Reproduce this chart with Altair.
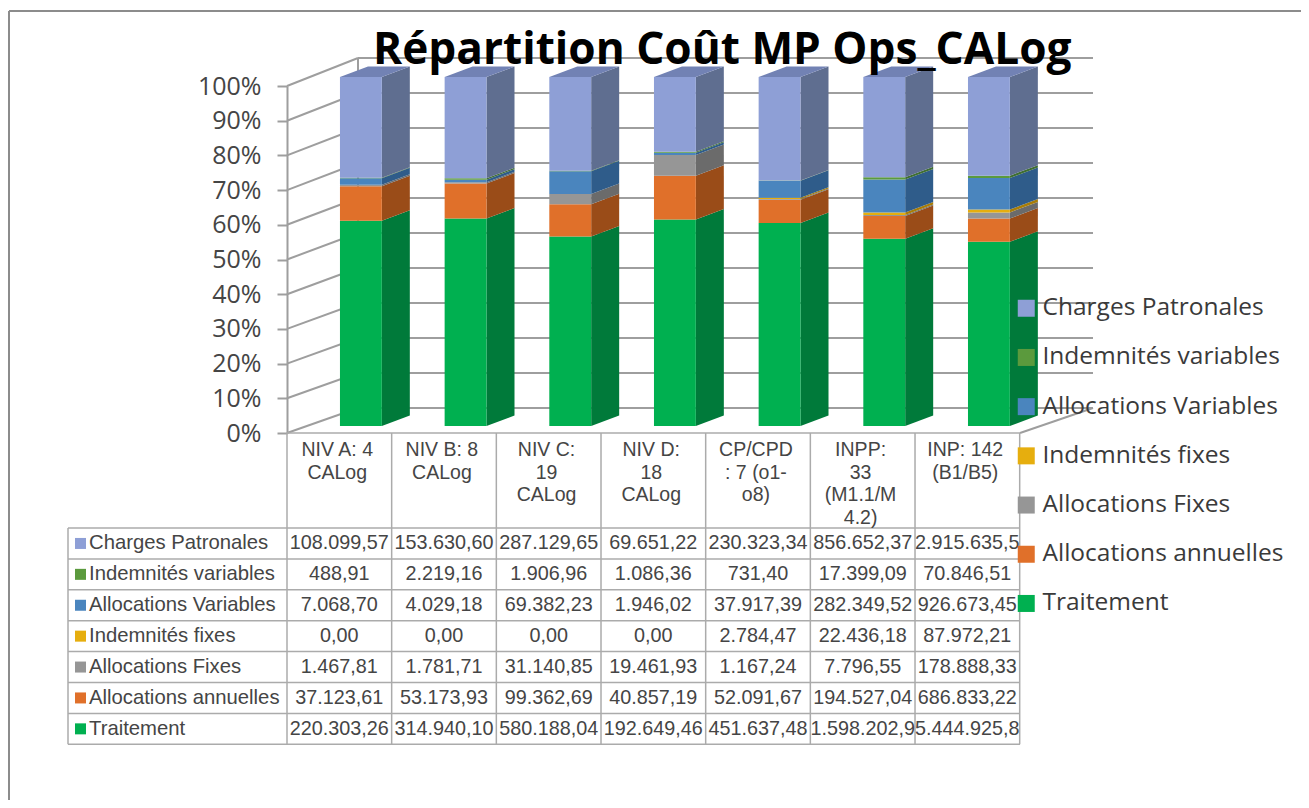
import altair as alt
import pandas as pd

categories = ["NIV A: 4\nCALog", "NIV B: 8\nCALog", "NIV C:\n19\nCALog", "NIV D:\n18\nCALog",
              "CP/CPD\n: 7 (o1-\no8)", "INPP:\n33\n(M1.1/M\n4.2)", "INP: 142\n(B1/B5)"]
series = ["Charges Patronales", "Indemnités variables", "Allocations Variables", "Indemnités fixes",
          "Allocations Fixes", "Allocations annuelles", "Traitement"]
charges = ["108.099,57", "153.630,60", "287.129,65", "69.651,22", "230.323,34", "856.652,37", "2.915.635,5"]
indem_var = ["488,91", "2.219,16", "1.906,96", "1.086,36", "731,40", "17.399,09", "70.846,51"]
alloc_var = ["7.068,70", "4.029,18", "69.382,23", "1.946,02", "37.917,39", "282.349,52", "926.673,45"]
indem_fix = ["0,00", "0,00", "0,00", "0,00", "2.784,47", "22.436,18", "87.972,21"]
alloc_fix = ["1.467,81", "1.781,71", "31.140,85", "19.461,93", "1.167,24", "7.796,55", "178.888,33"]
alloc_ann = ["37.123,61", "53.173,93", "99.362,69", "40.857,19", "52.091,67", "194.527,04", "686.833,22"]
traitement = ["220.303,26", "314.940,10", "580.188,04", "192.649,46", "451.637,48", "1.598.202,9", "5.444.925,8"]
table = [charges, indem_var, alloc_var, indem_fix, alloc_fix, alloc_ann, traitement]
front_colors = ["#8E9FD6", "#5B9A3D", "#4A85BE", "#E6AE0E", "#969696", "#E0702A", "#00B050"]
side_colors = ["#5F6E90", "#3F6E32", "#2F5C8A", "#A87D08", "#6B6B6B", "#9A4C18", "#007A3A"]
top_color = "#7282B4"
percent_ticks = [0, .1, .2, .3, .4, .5, .6, .7, .8, .9, 1]

W, H = 1293, 792
SANS = "Liberation Sans"
HEAD = "Open Sans"
TXT = "#454545"
LINE = "#9E9E9E"


# layout helpers: page pixels to the data units of the shared scales
def fx(px):
    return (px - 287) / 104.67


def fy(py):
    return (426 - py) / 349 * 100


xs = alt.Scale(domain=[fx(8), fx(8 + W)], range=[0, W], nice=False, zero=False)
ys = alt.Scale(domain=[fy(8 + H), fy(8)], range=[H, 0], nice=False, zero=False)
X = lambda f="x": alt.X(f + ":Q", scale=xs, axis=None)
Y = lambda f="y": alt.Y(f + ":Q", scale=ys, axis=None)
series_color = alt.Scale(domain=series, range=front_colors)

num = lambda s: float(s.replace(".", "").replace(",", "."))

BAR_START, BAR_W, DEPTH_X, DEPTH_Y = 0.506, 0.40, 28 / 104.67, 10.5 / 3.49
front, side, top = [], [], []
for i, cat in enumerate(categories):
    vals = [num(col[i]) for col in table]
    tot = sum(vals)
    base = 0.0
    for s in range(len(series) - 1, -1, -1):
        v = vals[s] / tot * 100
        if v > 0:
            x0 = i + BAR_START
            x1 = x0 + BAR_W
            front.append(dict(x=x0, x2=x1, y=base, y2=base + v, s=series[s]))
            key = f"{i}-{s}"
            side.append(dict(x=x1, y=base, y2=base + v, k=key, c=side_colors[s]))
            side.append(dict(x=x1 + DEPTH_X, y=base + DEPTH_Y, y2=base + v + DEPTH_Y, k=key, c=side_colors[s]))
        base += v
    x0 = i + BAR_START
    top.append(dict(x=x0, x2=x0 + BAR_W, y=100, k=i))
    top.append(dict(x=x0 + DEPTH_X, x2=x0 + BAR_W + DEPTH_X, y=100 + DEPTH_Y, k=i))

# walls and grid
grid, wall = [], []
for k in range(11):
    yb = 408 - 35 * k
    yf = 433 - 34.7 * k
    grid.append(dict(x=fx(358), x2=fx(1093), y=fy(yb), y2=fy(yb)))
    wall.append(dict(x=fx(287), x2=fx(358), y=fy(yf), y2=fy(yb)))
wall.append(dict(x=fx(358), x2=fx(358), y=fy(408), y2=fy(58)))
wall.append(dict(x=fx(1020), x2=fx(1093), y=fy(433), y2=fy(408)))

# table grid
ROW_TOP, ROW_H = 528, 30.9
tlines = [dict(x=fx(287), x2=fx(1020), y=fy(433), y2=fy(433))]
for r in range(8):
    py = ROW_TOP + r * ROW_H
    tlines.append(dict(x=fx(68), x2=fx(1020), y=fy(py), y2=fy(py)))
tlines.append(dict(x=fx(68), x2=fx(68), y=fy(ROW_TOP), y2=fy(ROW_TOP + 7 * ROW_H)))
for c in range(8):
    tlines.append(dict(x=c, x2=c, y=fy(433), y2=fy(ROW_TOP + 7 * ROW_H)))

headers = [dict(x=i + 0.48, y=fy(441), t=c) for i, c in enumerate(categories)]
cells, labels = [], []
for r, col in enumerate(table):
    py = ROW_TOP + (r + 0.5) * ROW_H
    labels.append(dict(x=fx(89), xk=fx(80.5), y=fy(py), t=series[r], s=series[r]))
    for i, t in enumerate(col):
        cells.append(dict(x=i + 0.5, y=fy(py), t=t))

frame = [dict(x=fx(9), x2=fx(1301), y=fy(11), y2=fy(11)),
         dict(x=fx(9), x2=fx(9), y=fy(11), y2=fy(800))]
ticks = [dict(v=v) for v in percent_ticks]


def rules(rows, color, width):
    return alt.Chart(pd.DataFrame(rows)).mark_rule(color=color, strokeWidth=width).encode(
        x=X(), x2="x2:Q", y=Y(), y2="y2:Q")


axis_layer = alt.Chart(pd.DataFrame(ticks)).mark_point(opacity=0).encode(
    x=alt.value(279),
    y=alt.Y("v:Q", scale=alt.Scale(domain=[0, 1], range=[425, 78], nice=False),
            axis=alt.Axis(title=None, offset=-279, values=percent_ticks, format=".0%", grid=False,
                          labelFont=HEAD, labelFontSize=25, labelColor=TXT, labelPadding=16,
                          tickSize=10, tickWidth=2, tickColor=LINE,
                          domainWidth=2, domainColor=LINE)),
)

side_layer = alt.Chart(pd.DataFrame(side)).mark_area(opacity=1).encode(
    x=X(), y=alt.Y("y:Q", scale=ys, axis=None, stack=None), y2="y2:Q", detail="k:N",
    color=alt.Color("c:N", scale=None, legend=None))

top_layer = alt.Chart(pd.DataFrame(top)).mark_area(orient="horizontal", color=top_color).encode(
    y=alt.Y("y:Q", scale=ys, axis=None), x=alt.X("x:Q", scale=xs, axis=None, stack=None), x2="x2:Q", detail="k:N")

front_layer = alt.Chart(pd.DataFrame(front)).mark_rect().encode(
    x=X(), x2="x2:Q", y=Y(), y2="y2:Q",
    color=alt.Color("s:N", scale=series_color, sort=series,
                    legend=alt.Legend(title=None, orient="none", legendX=1006, legendY=288,
                                      symbolType="square", symbolSize=289, symbolStrokeWidth=0,
                                      labelFont=HEAD, labelFontSize=24.5, labelColor="#3a3a3a",
                                      labelLimit=400, labelOffset=4, rowPadding=24.2, values=series)))

header_layer = alt.Chart(pd.DataFrame(headers)).mark_text(
    font=SANS, fontSize=19.5, color=TXT, lineBreak="\n", lineHeight=22.5, baseline="top", align="center"
).encode(x=X(), y=Y(), text="t:N")

cell_layer = alt.Chart(pd.DataFrame(cells)).mark_text(
    font=SANS, fontSize=19.8, color=TXT, baseline="middle", align="center"
).encode(x=X(), y=Y(), text="t:N")

label_layer = alt.Chart(pd.DataFrame(labels)).mark_text(
    font=SANS, fontSize=20.3, color=TXT, baseline="middle", align="left"
).encode(x=X(), y=Y(), text="t:N")

key_layer = alt.Chart(pd.DataFrame(labels)).mark_square(size=121, opacity=1).encode(
    x=X("xk"), y=Y(), color=alt.Color("s:N", scale=series_color, legend=None))

chart = alt.layer(
    rules(frame, "#8C8C8C", 2),
    rules(grid, LINE, 2),
    rules(wall, LINE, 2),
    rules(tlines, "#ABABAB", 1.5),
    axis_layer,
    side_layer,
    top_layer,
    front_layer,
    header_layer,
    cell_layer,
    label_layer,
    key_layer,
).resolve_scale(y="independent", color="independent").properties(
    width=W, height=H, padding=0, autosize=alt.AutoSizeParams(type="none"), background="white",
    title=alt.TitleParams("Répartition Coût MP Ops_CALog", font=HEAD, fontSize=44.2, fontWeight="bold",
                          color="#000000", anchor="start", frame="group", dx=365, dy=65, offset=0),
).configure_view(stroke=None)

chart.save("out.html", embed_options={"renderer": "svg", "actions": False})
